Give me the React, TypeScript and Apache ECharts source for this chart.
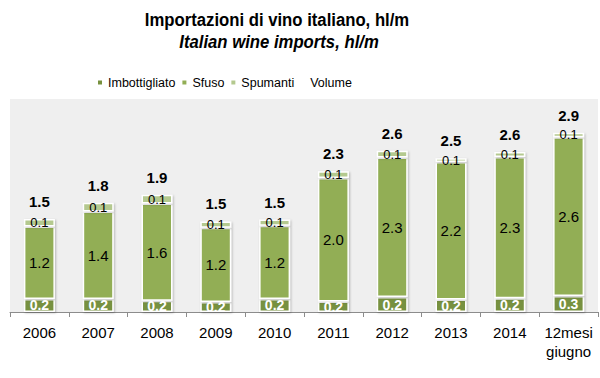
import React, { useEffect, useRef } from "react";
import * as echarts from "echarts";

const categories = ["2006", "2007", "2008", "2009", "2010", "2011", "2012", "2013", "2014", "12mesi\ngiugno"];
const imbottigliato = [0.21, 0.21, 0.18, 0.16, 0.21, 0.17, 0.24, 0.2, 0.22, 0.26];
const sfuso = [1.17, 1.41, 1.57, 1.2, 1.18, 1.99, 2.25, 2.22, 2.28, 2.56];
const spumanti = [0.12, 0.14, 0.14, 0.1, 0.1, 0.11, 0.11, 0.06, 0.08, 0.07];
const volume = categories.map((_, i) => imbottigliato[i] + sfuso[i] + spumanti[i]);

const TITLE = "Importazioni di vino italiano, hl/m";
const SUBTITLE = "Italian wine imports, hl/m";

const SANS = "'Liberation Sans', Arial, sans-serif";

const barShadow = {
  borderColor: "#ffffff",
  borderWidth: 1.5,
  shadowColor: "rgba(0,0,0,0.25)",
  shadowBlur: 2,
  shadowOffsetX: 1,
  shadowOffsetY: 1,
};

export default function App() {
  const ref = useRef<HTMLDivElement>(null);
  useEffect(() => {
    if (!ref.current) return;
    const chart = echarts.init(ref.current, undefined, { renderer: "svg" });
    const fmt = (p: any) => Number(p.value).toFixed(1);
    chart.setOption({
      animation: false,
      backgroundColor: "#ffffff",
      graphic: [
        {
          type: "text",
          x: 277,
          y: 20,
          scaleX: 0.88,
          style: {
            text: TITLE,
            fontFamily: SANS,
            fontWeight: "bold",
            fontSize: 19,
            fill: "#000",
            textAlign: "center",
            textVerticalAlign: "middle",
          },
        },
        {
          type: "text",
          x: 279,
          y: 42,
          scaleX: 0.88,
          style: {
            text: SUBTITLE,
            fontFamily: SANS,
            fontWeight: "bold",
            fontStyle: "italic",
            fontSize: 19,
            fill: "#000",
            textAlign: "center",
            textVerticalAlign: "middle",
          },
        },
      ],
      legend: {
        left: 91,
        top: 71,
        itemWidth: 6,
        itemHeight: 6,
        itemGap: 5,
        textStyle: { fontFamily: SANS, fontSize: 12.5, color: "#000" },
        data: [
          { name: "Imbottigliato", icon: "rect" },
          { name: "Sfuso", icon: "rect" },
          { name: "Spumanti", icon: "rect" },
          { name: "Volume", icon: "none" },
        ],
      },
      grid: {
        left: 10,
        right: 2,
        top: 99,
        bottom: 66,
        show: true,
        backgroundColor: "#efefef",
        borderWidth: 0,
      },
      xAxis: {
        type: "category",
        data: categories,
        axisLine: { lineStyle: { color: "#8c8c8c", width: 1 } },
        axisTick: { show: true, length: 5, interval: 0, lineStyle: { color: "#8c8c8c" } },
        axisLabel: {
          interval: 0,
          fontFamily: SANS,
          fontSize: 15,
          color: "#000",
          margin: 11,
          lineHeight: 19,
        },
      },
      yAxis: {
        type: "value",
        min: 0,
        max: 3.435,
        show: false,
        splitLine: { show: false },
      },
      series: [
        {
          name: "Imbottigliato",
          type: "bar",
          stack: "v",
          barWidth: 31,
          data: imbottigliato,
          itemStyle: { color: "#77913f", ...barShadow },
          label: {
            show: true,
            position: "inside",
            formatter: fmt,
            fontFamily: SANS,
            fontWeight: "bold",
            fontSize: 14,
            color: "#fff",
          },
          z: 2,
        },
        {
          name: "Sfuso",
          type: "bar",
          stack: "v",
          data: sfuso,
          itemStyle: { color: "#92ae55", ...barShadow },
          label: {
            show: true,
            position: "inside",
            formatter: fmt,
            fontFamily: SANS,
            fontSize: 15,
            color: "#000",
          },
          z: 2,
        },
        {
          name: "Spumanti",
          type: "bar",
          stack: "v",
          data: spumanti,
          itemStyle: { color: "#b4c98f", ...barShadow },
          label: {
            show: true,
            position: "inside",
            formatter: fmt,
            fontFamily: SANS,
            fontSize: 13,
            color: "#000",
          },
          z: 2,
        },
        {
          name: "Volume",
          type: "line",
          data: volume,
          symbol: "circle",
          symbolSize: 0.1,
          itemStyle: { color: "rgba(0,0,0,0)" },
          lineStyle: { width: 0, opacity: 0 },
          label: {
            show: true,
            position: "top",
            distance: 10,
            formatter: fmt,
            fontFamily: SANS,
            fontWeight: "bold",
            fontSize: 15,
            color: "#000",
          },
          z: 3,
        },
      ],
    });
    return () => chart.dispose();
  }, []);
  return <div ref={ref} style={{ width: 600, height: 378, position: "absolute", left: 0, top: 0 }} />;
}
